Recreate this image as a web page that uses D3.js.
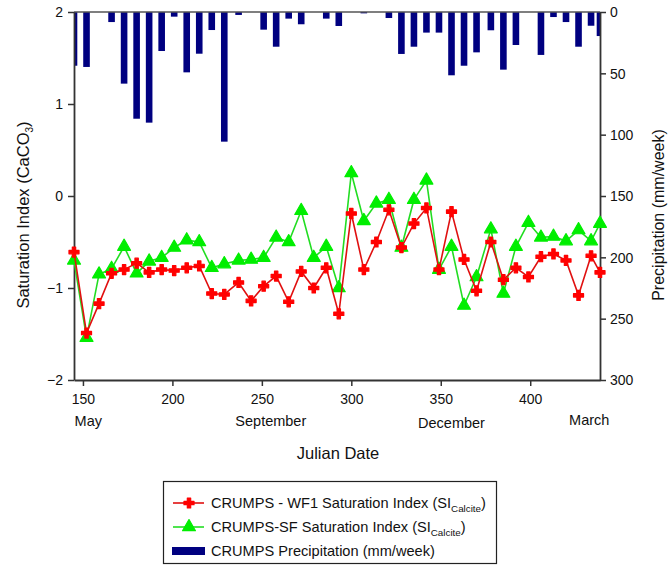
<!DOCTYPE html>
<html>
<head>
<meta charset="utf-8">
<script src="https://cdn.jsdelivr.net/npm/d3@7"></script>
<style>
  html, body { margin: 0; padding: 0; background: #fff; }
  svg { display: block; font-family: "Liberation Sans", Arial, sans-serif; }
</style>
</head>
<body>
<svg id="chart" width="668" height="567"></svg>
<script>
// Weekly sampling dates (Julian day, counted on from Jan 1 of the first year)
const julianDays = [145,152,159,166,173,180,187,194,201,208,215,222,229,237,244,251,258,265,272,279,286,293,300,307,314,321,328,335,342,349,356,363,370,378,385,392,399,406,413,420,427,434,439];

// Calcite saturation index, WF1 site
const siWF1 = [-0.61,-1.49,-1.17,-0.84,-0.80,-0.73,-0.83,-0.80,-0.81,-0.78,-0.76,-1.06,-1.07,-0.94,-1.14,-0.98,-0.87,-1.15,-0.82,-1.00,-0.78,-1.28,-0.19,-0.80,-0.50,-0.15,-0.56,-0.30,-0.13,-0.80,-0.17,-0.69,-1.03,-0.50,-0.91,-0.78,-0.88,-0.66,-0.63,-0.70,-1.08,-0.65,-0.83];

// Calcite saturation index, SF site
const siSF = [-0.70,-1.54,-0.85,-0.79,-0.55,-0.84,-0.71,-0.67,-0.56,-0.48,-0.50,-0.78,-0.74,-0.70,-0.69,-0.67,-0.45,-0.50,-0.16,-0.67,-0.55,-1.00,0.25,-0.27,-0.08,-0.04,-0.56,-0.04,0.17,-0.80,-0.55,-1.19,-0.88,-0.36,-1.06,-0.55,-0.29,-0.45,-0.44,-0.49,-0.37,-0.49,-0.30];

// Weekly precipitation (mm/week)
const precip = [43.8,44.8,0,8.2,58.4,87,90.2,31.8,3.8,49.2,34,14.7,105.7,2.4,0,14.4,28.3,5.4,10,0,5.4,11.4,0,1.1,0,4.9,34.2,28.3,16.8,16.8,51.6,43.8,32.9,14.9,47,26.9,0,35,4.1,8.2,28.3,11.2,19.6];

const xTicks = [150,200,250,300,350,400];
const siTicks = [-2,-1,0,1,2];
const precipTicks = [0,50,100,150,200,250,300];
const monthNames = ["May","September","December","March"];
const monthDays = [153,255,356,433];
const monthOffsets = [0,0,1.5,-1.5];

const legendLabels = ["CRUMPS - WF1 Saturation Index (SI", "CRUMPS-SF Saturation Index (SI", "CRUMPS Precipitation (mm/week)"];

const svg = d3.select("#chart");
const mLeft = 74, mRight = 600, mTop = 12, mBottom = 380;
const axisColor = "#333";

const x = d3.scaleLinear().domain([145, 439]).range([mLeft, mRight]);
const ySI = d3.scaleLinear().domain([-2, 2]).range([mBottom, mTop]);
const yP = d3.scaleLinear().domain([0, 300]).range([mTop, mBottom]);

svg.append("defs").append("clipPath").attr("id", "plotClip")
  .append("rect").attr("x", mLeft).attr("y", mTop).attr("width", mRight - mLeft).attr("height", mBottom - mTop);

// Precipitation bars hang down from the top edge
svg.append("g").attr("clip-path", "url(#plotClip)")
  .selectAll("rect").data(julianDays.map((d, i) => ({ d, p: precip[i] })).filter(o => o.p > 0))
  .join("rect")
  .attr("x", o => x(o.d) - 3.3)
  .attr("width", 6.6)
  .attr("y", yP(0))
  .attr("height", o => yP(o.p) - yP(0))
  .attr("fill", "#000080");

// Frame: top edge
svg.append("line").attr("x1", mLeft).attr("x2", mRight).attr("y1", mTop).attr("y2", mTop)
  .attr("stroke", "#555").attr("stroke-width", 1.5);

// Axes
const fontTick = "14px";
const gx = svg.append("g").attr("transform", `translate(0,${mBottom})`)
  .call(d3.axisBottom(x).tickValues(xTicks).tickSize(6).tickSizeOuter(0).tickPadding(5));
const gl = svg.append("g").attr("transform", `translate(${mLeft},0)`)
  .call(d3.axisLeft(ySI).tickValues(siTicks).tickFormat(d3.format("d")).tickSize(6).tickSizeOuter(0).tickPadding(5));
const gr = svg.append("g").attr("transform", `translate(${mRight},0)`)
  .call(d3.axisRight(yP).tickValues(precipTicks).tickSize(6).tickSizeOuter(0).tickPadding(4));
[gx, gl, gr].forEach(g => {
  g.select(".domain").attr("stroke", axisColor).attr("stroke-width", 1.8);
  g.selectAll(".tick line").attr("stroke", axisColor).attr("stroke-width", 1.5);
  g.selectAll(".tick text").attr("fill", "#111").style("font-size", fontTick)
    .style("font-family", "'Liberation Sans', Arial, sans-serif");
});
gx.selectAll(".tick text").attr("dy", "0.95em");
gl.selectAll(".tick text").attr("dy", "0.35em");
gr.selectAll(".tick text").attr("dy", "0.35em");

// Month names under the day numbers
svg.append("g").selectAll("text").data(monthNames).join("text")
  .attr("x", (m, i) => x(monthDays[i]))
  .attr("y", (m, i) => 426 + monthOffsets[i])
  .attr("text-anchor", "middle")
  .attr("font-size", 14.5).attr("fill", "#111")
  .text(m => m);

// Axis titles
svg.append("text").attr("x", 338).attr("y", 459).attr("text-anchor", "middle")
  .attr("font-size", 16.5).attr("fill", "#111").text("Julian Date");

const yl = svg.append("text").attr("transform", "translate(29,215) rotate(-90)")
  .attr("text-anchor", "middle").attr("font-size", 16.5).attr("fill", "#111");
yl.append("tspan").text("Saturation Index (CaCO");
yl.append("tspan").attr("font-size", 10).attr("dy", 4).text("3");
yl.append("tspan").attr("dy", -4).text(")");

svg.append("text").attr("transform", "translate(663.5,215) rotate(-90)")
  .attr("text-anchor", "middle").attr("font-size", 16).attr("fill", "#111")
  .text("Precipitation (mm/week)");

// Saturation index series
const series = [
  { values: siSF, line: "#22dd22", fill: "#00ee00", symbol: d3.symbolTriangle, size: 72 },
  { values: siWF1, line: "#e01010", fill: "#ff0000", symbol: d3.symbolCross, size: 56 }
];
const plot = svg.append("g");
series.forEach(s => {
  const pts = julianDays.map((d, i) => [d, s.values[i]]);
  plot.append("path").datum(pts)
    .attr("fill", "none").attr("stroke", s.line).attr("stroke-width", 1.6)
    .attr("d", d3.line().x(p => x(p[0])).y(p => ySI(p[1])));
  plot.append("g").selectAll("path").data(pts).join("path")
    .attr("transform", p => `translate(${x(p[0])},${ySI(p[1])})`)
    .attr("d", d3.symbol().type(s.symbol).size(s.size))
    .attr("fill", s.fill).attr("stroke", s.fill).attr("stroke-width", 1.2).attr("stroke-linejoin", "round");
});

// Legend
const lg = svg.append("g");
lg.append("rect").attr("x", 163.5).attr("y", 481.5).attr("width", 333).attr("height", 82)
  .attr("fill", "#fff").attr("stroke", "#222").attr("stroke-width", 1.2);
const rowY = [503, 527, 551];
const legendStyles = [series[1], series[0]];
legendStyles.forEach((s, i) => {
  lg.append("line").attr("x1", 173).attr("x2", 204).attr("y1", rowY[i]).attr("y2", rowY[i])
    .attr("stroke", s.line).attr("stroke-width", 1.6);
  lg.append("path").attr("transform", `translate(189,${rowY[i]})`)
    .attr("d", d3.symbol().type(s.symbol).size(s.size))
    .attr("fill", s.fill).attr("stroke", s.fill).attr("stroke-width", 1.2).attr("stroke-linejoin", "round");
});
lg.append("rect").attr("x", 172).attr("y", rowY[2] - 4).attr("width", 33).attr("height", 8).attr("fill", "#000080");
legendLabels.forEach((t, i) => {
  const tx = lg.append("text").attr("x", 211).attr("y", rowY[i]).attr("dy", "0.35em")
    .attr("font-size", 14.6).attr("fill", "#111");
  tx.append("tspan").text(t);
  if (i < 2) {
    tx.append("tspan").attr("font-size", 9.8).attr("dy", 4).text("Calcite");
    tx.append("tspan").attr("dy", -4).text(")");
  }
});
</script>
</body>
</html>
